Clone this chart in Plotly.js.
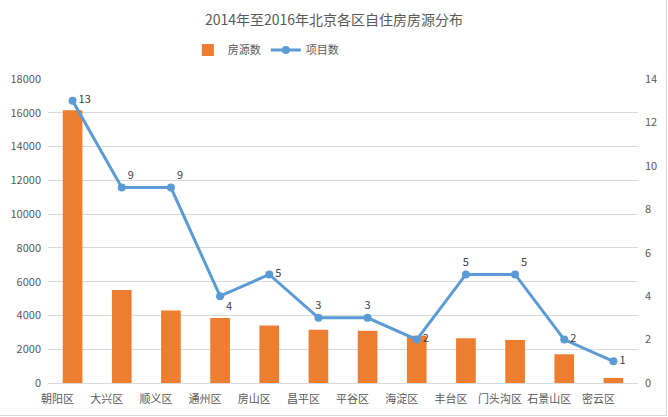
<!DOCTYPE html>
<html><head><meta charset="utf-8">
<script src="https://cdn.plot.ly/plotly-3.0.1.min.js"></script>
<style>body{margin:0;padding:0;background:#fff}#chart{width:668px;height:417px;position:absolute;left:0;top:0}#frame{position:absolute;left:-1px;top:-1px;width:666px;height:415px;border:1px solid #d9d9d9;pointer-events:none}</style>
</head><body><div id="chart"></div><div id="frame"></div>
<script>
const districts = ["朝阳区","大兴区","顺义区","通州区","房山区","昌平区","平谷区","海淀区","丰台区","门头沟区","石景山区","密云区"];
const listings = [16150,5500,4300,3850,3400,3150,3100,2800,2650,2550,1700,300];
const projects = [13,9,9,4,5,3,3,2,5,5,2,1];
const labelPos = ["middle right","top right","top right","bottom right","middle right","top center","top center","middle right","top center","top right","middle right","middle right"];
const font = '"Noto Sans CJK SC", "Liberation Sans", sans-serif';
const traces = [
 {type:'bar', name:'房源数', x:districts, y:listings, marker:{color:'#ED7D31'}, hoverinfo:'y'},
 {type:'scatter', mode:'lines+markers+text', name:'项目数', x:districts, y:projects, yaxis:'y2',
  line:{color:'#5B9BD5', width:3}, marker:{color:'#5B9BD5', size:8},
  text:projects.map(String), textposition:labelPos, textfont:{size:11,color:'#404040'}, cliponaxis:false}
];
const layout = {
 width:668, height:417,
 margin:{l:48, r:30, t:79, b:34, autoexpand:false},
 paper_bgcolor:'#fff', plot_bgcolor:'#fff',
 font:{family:font, color:'#595959', size:11},
 title:{text:'2014年至2016年北京各区自住房房源分布', x:0.5, xanchor:'center', y:0.952, yanchor:'middle', font:{size:14, color:'#595959', family:font}},
 showlegend:true,
 legend:{orientation:'h', x:0.237, xanchor:'left', y:1.095, yanchor:'middle', font:{size:11,color:'#595959'}, itemwidth:30, traceorder:'normal'},
 bargap:0.6,
 xaxis:{type:'category', range:[-0.5, 11.5], automargin:false, showgrid:false, showline:true, linecolor:'#d9d9d9', ticks:'', ticklabelshift:-15, ticklabelstandoff:6, tickfont:{size:11,color:'#595959'}, zeroline:false},
 yaxis:{range:[0,18000], automargin:false, dtick:2000, showgrid:true, gridcolor:'#d9d9d9', zeroline:false, showline:false, ticks:'', ticklabelstandoff:6, tickfont:{size:11,color:'#595959'}, tickformat:'d'},
 yaxis2:{range:[0,14], automargin:false, dtick:2, overlaying:'y', side:'right', showgrid:false, zeroline:false, showline:false, ticks:'', ticklabelstandoff:6, tickfont:{size:11,color:'#595959'}}
};
Plotly.newPlot('chart', traces, layout, {displayModeBar:false, staticPlot:true});
</script></body></html>
